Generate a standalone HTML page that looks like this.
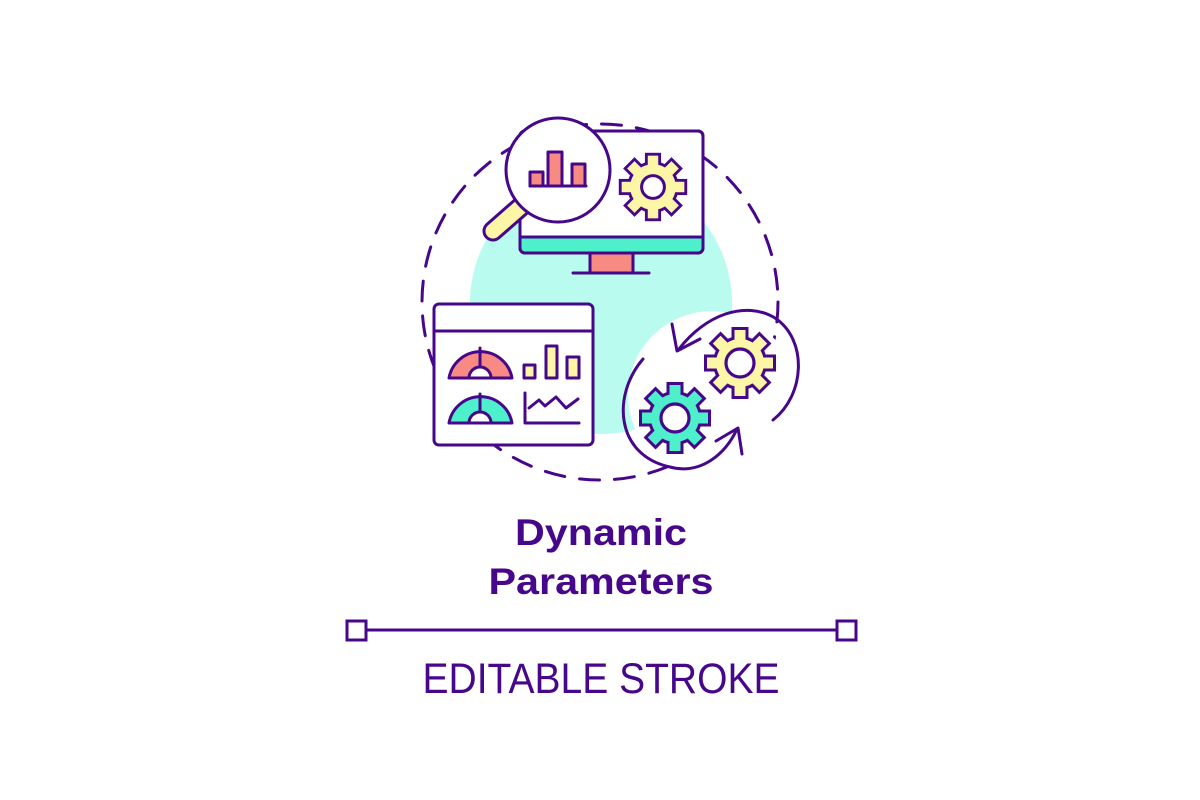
<!DOCTYPE html>
<html><head><meta charset="utf-8"><style>
html,body{margin:0;padding:0;background:#fff;}
svg{display:block}
</style></head><body>
<svg width="1200" height="800" viewBox="0 0 1200 800" xmlns="http://www.w3.org/2000/svg">
<defs>
<g id="gearStroke">
  <circle r="24" fill="#46078a" stroke="#46078a" stroke-width="6"/>
  <rect x="-5.5" y="-33" width="11" height="14" fill="#46078a" stroke="#46078a" stroke-width="6"/>
  <rect x="-5.5" y="-33" width="11" height="14" transform="rotate(45)" fill="#46078a" stroke="#46078a" stroke-width="6"/>
  <rect x="-5.5" y="-33" width="11" height="14" transform="rotate(90)" fill="#46078a" stroke="#46078a" stroke-width="6"/>
  <rect x="-5.5" y="-33" width="11" height="14" transform="rotate(135)" fill="#46078a" stroke="#46078a" stroke-width="6"/>
  <rect x="-5.5" y="-33" width="11" height="14" transform="rotate(180)" fill="#46078a" stroke="#46078a" stroke-width="6"/>
  <rect x="-5.5" y="-33" width="11" height="14" transform="rotate(225)" fill="#46078a" stroke="#46078a" stroke-width="6"/>
  <rect x="-5.5" y="-33" width="11" height="14" transform="rotate(270)" fill="#46078a" stroke="#46078a" stroke-width="6"/>
  <rect x="-5.5" y="-33" width="11" height="14" transform="rotate(315)" fill="#46078a" stroke="#46078a" stroke-width="6"/>
</g>
<g id="gearFill">
  <circle r="24"/>
  <rect x="-5.5" y="-33" width="11" height="14"/>
  <rect x="-5.5" y="-33" width="11" height="14" transform="rotate(45)"/>
  <rect x="-5.5" y="-33" width="11" height="14" transform="rotate(90)"/>
  <rect x="-5.5" y="-33" width="11" height="14" transform="rotate(135)"/>
  <rect x="-5.5" y="-33" width="11" height="14" transform="rotate(180)"/>
  <rect x="-5.5" y="-33" width="11" height="14" transform="rotate(225)"/>
  <rect x="-5.5" y="-33" width="11" height="14" transform="rotate(270)"/>
  <rect x="-5.5" y="-33" width="11" height="14" transform="rotate(315)"/>
</g>
</defs>

<!-- teal blob -->
<circle cx="601" cy="303" r="131" fill="#b9fcef"/>
<!-- dashed circle -->
<circle cx="600" cy="302" r="178" fill="none" stroke="#46078a" stroke-width="3" stroke-dasharray="20 15" stroke-linecap="round"/>

<!-- white area around gears -->
<circle cx="712" cy="395" r="84" fill="#fff"/>

<g fill="none" stroke="#46078a" stroke-width="3" stroke-linecap="round" stroke-linejoin="round">
<!-- monitor -->
<rect x="520" y="131" width="183" height="122" rx="5" fill="#fff"/>
<rect x="521.5" y="237" width="180" height="14.5" fill="#4ef0cc" stroke="none"/>
<line x1="520" y1="237" x2="703" y2="237"/>
<rect x="520" y="131" width="183" height="122" rx="5"/>
<rect x="590" y="253" width="43" height="20" fill="#f78b83"/>
<line x1="573" y1="273" x2="649" y2="273"/>
</g>
<!-- monitor gear -->
<g transform="translate(653,187) scale(0.95)">
  <use href="#gearStroke"/>
  <use href="#gearFill" fill="#fcf6a6"/>
  <circle r="12" fill="#fff" stroke="#46078a" stroke-width="3.2"/>
</g>

<!-- magnifier handle -->
<line x1="525" y1="203" x2="493" y2="231" stroke="#46078a" stroke-width="21" stroke-linecap="round"/>
<line x1="525" y1="203" x2="493" y2="231" stroke="#fcf6a6" stroke-width="15" stroke-linecap="round"/>

<g fill="none" stroke="#46078a" stroke-width="3" stroke-linecap="round" stroke-linejoin="round">
<circle cx="558" cy="170" r="52" fill="#fff"/>
<rect x="530" y="172" width="13" height="14" fill="#f78b83"/>
<rect x="548" y="152" width="14" height="34" fill="#f78b83"/>
<rect x="572" y="164" width="13" height="22" fill="#f78b83"/>
<line x1="530" y1="186" x2="586" y2="186"/>

<!-- dashboard -->
<rect x="434" y="304" width="159" height="141" rx="5" fill="#fff"/>
<line x1="434" y1="331" x2="593" y2="331"/>
<path d="M449 378 A32 32 0 0 1 512 378 Z" fill="#f78b83"/>
<path d="M469 378 A11 11 0 0 1 491 378 Z" fill="#fff"/>
<line x1="480" y1="348" x2="480" y2="366"/>
<path d="M449 423 A32 32 0 0 1 512 423 Z" fill="#4ef0cc"/>
<path d="M469 423 A11 11 0 0 1 491 423 Z" fill="#fff"/>
<line x1="480" y1="394" x2="480" y2="412"/>
<rect x="524" y="365" width="11" height="13" fill="#fcf6a6"/>
<rect x="546" y="346" width="11" height="32" fill="#fcf6a6"/>
<rect x="567" y="357" width="12" height="21" fill="#fcf6a6"/>
<polyline points="525,393 525,423 579,423"/>
<polyline points="529,408 539,400 545,406 556,397 566,408 578,399"/>

<!-- rotating arrows -->
<path d="M679 349 C705 315 745 300 775 318 C808 340 805 395 773 420"/>
<polyline points="672,324 677,351 700,339"/>
<path d="M643 359 C612 395 615 455 670 467 C700 475 725 455 737 429"/>
<polyline points="716,441 738,428 742,454"/>
</g>

<g transform="translate(740,363)">
  <use href="#gearStroke"/>
  <use href="#gearFill" fill="#fcf6a6"/>
  <circle r="14" fill="#fff" stroke="#46078a" stroke-width="3.2"/>
</g>
<g transform="translate(675,418)">
  <use href="#gearStroke"/>
  <use href="#gearFill" fill="#4ef0cc"/>
  <circle r="14" fill="#fff" stroke="#46078a" stroke-width="3.2"/>
</g>

<!-- text -->
<g fill="#46078a" font-family="'Liberation Sans', sans-serif" text-anchor="middle">
<text x="601" y="545" font-size="37" font-weight="bold" textLength="172" lengthAdjust="spacingAndGlyphs">Dynamic</text>
<text x="601" y="594" font-size="37" font-weight="bold" textLength="225" lengthAdjust="spacingAndGlyphs">Parameters</text>
<text x="601" y="693" font-size="43" textLength="357" lengthAdjust="spacingAndGlyphs">EDITABLE STROKE</text>
</g>
<g fill="#fff" stroke="#46078a" stroke-width="3">
<line x1="366" y1="630" x2="837" y2="630"/>
<rect x="347" y="621" width="19" height="19"/>
<rect x="837" y="621" width="19" height="19"/>
</g>
</svg>
</body></html>
